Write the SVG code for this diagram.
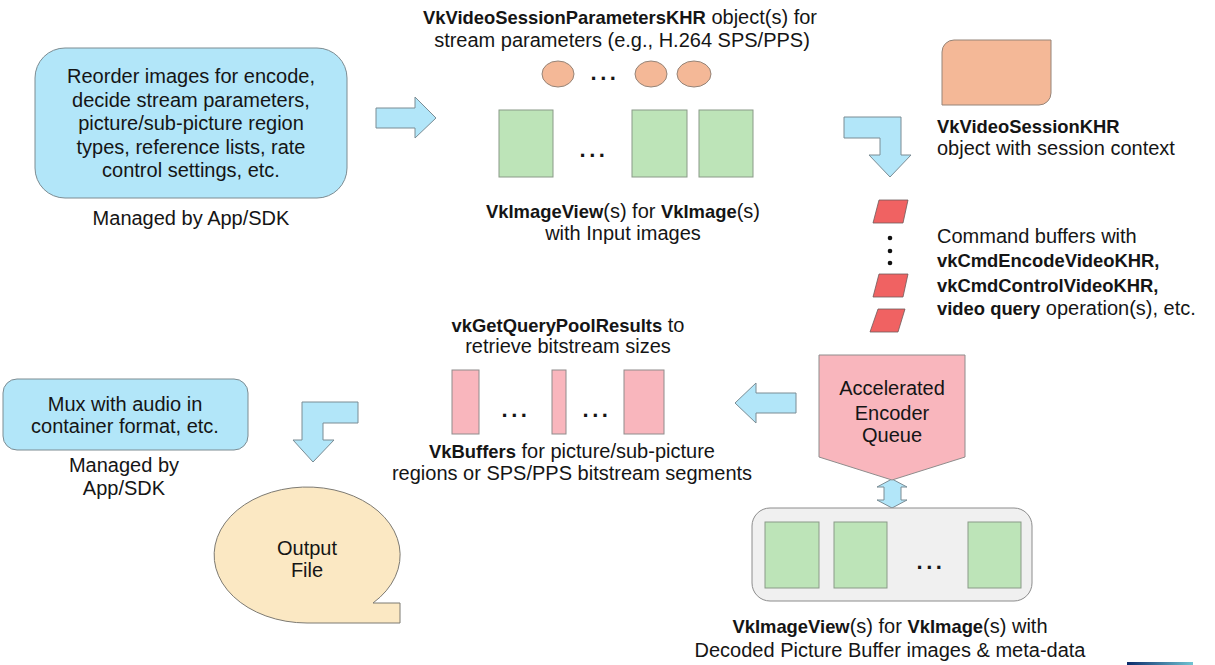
<svg xmlns="http://www.w3.org/2000/svg" width="1215" height="665" viewBox="0 0 1215 665">
<defs>
<linearGradient id="bar" x1="0" y1="0" x2="1" y2="0"><stop offset="0" stop-color="#0b2b6b"/><stop offset="1" stop-color="#70c4d2"/></linearGradient>
<style>
text{font-family:"Liberation Sans",Arial,sans-serif;font-size:20px;fill:#151515;text-anchor:middle}
.l{text-anchor:start}
.b{font-weight:bold;font-size:18.4px}
.dots{font-weight:bold;font-size:22px;letter-spacing:3.5px}
.arrow{fill:#b2e6f9;stroke:#7a8c94;stroke-width:1}
.blue{fill:#b2e6f9;stroke:#7d8c92;stroke-width:1}
.green{fill:#bde4b8;stroke:#8a9a88;stroke-width:1}
.pink{fill:#f9b6bd;stroke:#8f8c8c;stroke-width:1}
.red{fill:#f06262;stroke:#6e5a5a;stroke-width:0.8}
.peach{fill:#f4b897;stroke:#958478;stroke-width:1}
</style>
</defs>
<rect width="1215" height="665" fill="#fff"/>

<g id="connectors">
<polygon class="arrow" points="376,108 415,108 415,97 436,118 415,138 415,128 376,128"/>
<polygon class="arrow" points="844,117 901,117 901,155 911,155 890,177 869,155 880,155 880,138 844,138"/>
<polygon class="arrow" points="735,403 756,383 756,393 796,393 796,413 756,413 756,423"/>
<polygon class="arrow" points="892,479 907,487 901,487 901,500 907,500 892,508 877,500 884,500 884,487 877,487"/>
<polygon class="arrow" points="358,402 302,402 302,440 293,440 313,462 334,440 323,440 323,423 358,423"/>
</g>

<g id="app-box">
<rect class="blue" x="35" y="48" width="312" height="150" rx="30"/>
<text x="191" y="83">Reorder images for encode,</text>
<text x="191" y="106.5">decide stream parameters,</text>
<text x="191" y="130">picture/sub-picture region</text>
<text x="191" y="153.5">types, reference lists, rate</text>
<text x="191" y="177">control settings, etc.</text>
<text x="191" y="225">Managed by App/SDK</text>
</g>

<g id="session-params">
<text x="620" y="24"><tspan class="b">VkVideoSessionParametersKHR</tspan> object(s) for</text>
<text x="622" y="47">stream parameters (e.g., H.264 SPS/PPS)</text>
<ellipse class="peach" cx="558" cy="74" rx="16" ry="13"/>
<text class="dots" x="605" y="80">...</text>
<ellipse class="peach" cx="651" cy="74" rx="16" ry="13"/>
<ellipse class="peach" cx="694" cy="74" rx="17" ry="13"/>
</g>

<g id="input-images">
<rect class="green" x="499" y="110" width="54" height="67"/>
<text class="dots" x="594" y="157">...</text>
<rect class="green" x="632" y="110" width="55" height="67"/>
<rect class="green" x="699" y="110" width="54" height="67"/>
<text x="623" y="218"><tspan class="b">VkImageView</tspan>(s) for <tspan class="b">VkImage</tspan>(s)</text>
<text x="623" y="240">with Input images</text>
</g>

<g id="video-session">
<path class="peach" d="M954 40 L1051 40 L1051 93 A12 12 0 0 1 1039 105 L942 105 L942 52 A12 12 0 0 1 954 40 Z"/>
<text class="l b" x="937" y="133">VkVideoSessionKHR</text>
<text class="l" x="937" y="155">object with session context</text>
</g>

<g id="command-buffers">
<polygon class="red" points="879,200 908,200 903,223 873,223"/>
<circle cx="890" cy="238" r="2.3" fill="#111"/>
<circle cx="890" cy="251" r="2.3" fill="#111"/>
<circle cx="890" cy="263" r="2.3" fill="#111"/>
<polygon class="red" points="879,274 908,274 903,297 873,297"/>
<polygon class="red" points="878,309 905,309 898,332 870,332"/>
<text class="l" x="937" y="243">Command buffers with</text>
<text class="l b" x="937" y="267">vkCmdEncodeVideoKHR,</text>
<text class="l b" x="937" y="292">vkCmdControlVideoKHR,</text>
<text class="l" x="937" y="315"><tspan class="b">video query</tspan> operation(s), etc.</text>
</g>

<g id="encoder-queue">
<polygon class="pink" points="819,355 965,355 965,457 892,480 819,457"/>
<text x="892" y="395">Accelerated</text>
<text x="892" y="420">Encoder</text>
<text x="892" y="442">Queue</text>
</g>

<g id="dpb">
<rect x="752" y="508" width="280" height="93" rx="18" fill="#f0f0f0" stroke="#8c8c8c" stroke-width="1"/>
<rect class="green" x="765" y="522" width="54" height="66"/>
<rect class="green" x="834" y="522" width="53" height="66"/>
<text class="dots" x="931" y="569">...</text>
<rect class="green" x="968" y="522" width="53" height="66"/>
<text x="890" y="633"><tspan class="b">VkImageView</tspan>(s) for <tspan class="b">VkImage</tspan>(s) with</text>
<text x="890" y="657">Decoded Picture Buffer images &amp; meta-data</text>
</g>

<g id="bitstream-buffers">
<text x="568" y="332"><tspan class="b">vkGetQueryPoolResults</tspan> to</text>
<text x="568" y="353">retrieve bitstream sizes</text>
<rect class="pink" x="452" y="370" width="27" height="64"/>
<text class="dots" x="516" y="417">...</text>
<rect class="pink" x="552" y="370" width="14" height="64"/>
<text class="dots" x="597" y="417">...</text>
<rect class="pink" x="624" y="370" width="40" height="64"/>
<text x="572" y="458"><tspan class="b">VkBuffers</tspan> for picture/sub-picture</text>
<text x="572" y="480">regions or SPS/PPS bitstream segments</text>
</g>

<g id="mux-box">
<rect class="blue" x="3" y="379" width="245" height="71" rx="14"/>
<text x="125" y="411">Mux with audio in</text>
<text x="125" y="433">container format, etc.</text>
<text x="124" y="472">Managed by</text>
<text x="124" y="495">App/SDK</text>
</g>

<g id="output-file">
<path d="M373 603 A93 68 0 1 0 307 623 L400 623 L400 603 Z" fill="#fbe8c3" stroke="#7d7a72" stroke-width="1"/>
<text x="307" y="555">Output</text>
<text x="307" y="577">File</text>
</g>

<rect x="1127" y="662" width="66" height="3" fill="url(#bar)"/>
</svg>
